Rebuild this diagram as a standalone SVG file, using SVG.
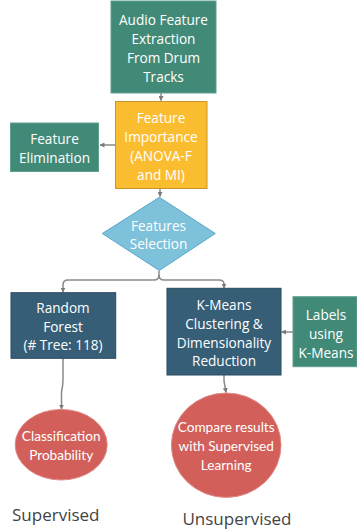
<svg xmlns="http://www.w3.org/2000/svg" width="357" height="531" viewBox="0 0 357 531">
<style>
.t{font-family:"Open Sans","DejaVu Sans",sans-serif;font-size:13.6px;fill:#ffffff;text-anchor:middle;dominant-baseline:central}
.c{font-family:Lato,"Open Sans",sans-serif;font-size:13.6px;fill:#ffffff;text-anchor:middle;dominant-baseline:central}
.lab{font-family:"Open Sans","DejaVu Sans",sans-serif;font-size:17px;fill:#444444;text-anchor:middle;dominant-baseline:central}
.teal{fill:#428a78;stroke:#5fa08f;stroke-width:1}
.navy{fill:#365e77;stroke:#2a4a5e;stroke-width:1}
.red{fill:#d35f5a;stroke:#e08a86;stroke-width:1}
.ln{fill:none;stroke:#8a8a8a;stroke-width:1.5}
</style>
<defs>
<marker id="ah" viewBox="0 0 10 10" refX="9" refY="5" markerWidth="5" markerHeight="5" orient="auto" markerUnits="userSpaceOnUse">
<path d="M0 0 L10 5 L0 10 z" fill="#7a7a7a"/>
</marker>
</defs>
<rect width="357" height="531" fill="#ffffff"/>
<g id="connectors">
<path class="ln" d="M161 93 L161 100.5" marker-end="url(#ah)"/>
<path class="ln" d="M115 145 L100 145" marker-end="url(#ah)"/>
<path class="ln" d="M160 188 L160 196.5" marker-end="url(#ah)"/>
<path class="ln" d="M159 271 L159 275 Q159 280 154 280 L68 280 Q63 280 63 285 L63 292" marker-end="url(#ah)"/>
<path class="ln" d="M159 275 Q159 280 164 280 L219 280 Q224 280 224 284 L224 288" marker-end="url(#ah)"/>
<path class="ln" d="M293 332 L281.5 332" marker-end="url(#ah)"/>
<path class="ln" d="M63 358 L63 380 Q63 385 61.5 392 L61.5 409" marker-end="url(#ah)"/>
<path class="ln" d="M224 375 L224 381 L226 392.5" marker-end="url(#ah)"/>
</g>
<g id="audio">
<rect class="teal" x="111" y="1" width="105" height="92"/>
<text class="t" x="163.5" y="19.3">Audio Feature</text>
<text class="t" x="163.5" y="38.7">Extraction</text>
<text class="t" x="163.5" y="57.7">From Drum</text>
<text class="t" x="163.5" y="76.7">Tracks</text>
</g>
<g id="importance">
<rect x="115.5" y="101.5" width="91.5" height="87" fill="#fbbd30" stroke="#c8962a" stroke-width="1"/>
<text class="t" x="161" y="117.3">Feature</text>
<text class="t" x="161" y="136.3">Importance</text>
<text class="t" x="161" y="155.7">(ANOVA-F</text>
<text class="t" x="161" y="174">and MI)</text>
</g>
<g id="elimination">
<rect class="teal" x="10.5" y="123" width="88" height="48.5"/>
<text class="t" x="54.5" y="138.3">Feature</text>
<text class="t" x="54.5" y="157">Elimination</text>
</g>
<g id="selection">
<polygon points="159.3,197.3 215.3,233.5 159.3,270.5 102.3,233.5" fill="#7ec1db" stroke="#5aa9c8" stroke-width="1"/>
<text class="t" x="158.5" y="225.7">Features</text>
<text class="t" x="158.5" y="243.3">Selection</text>
</g>
<g id="forest">
<rect class="navy" x="11" y="292.7" width="104.7" height="65.6"/>
<text class="t" x="63" y="307.3">Random</text>
<text class="t" x="63" y="326">Forest</text>
<text class="t" x="63" y="344.3">(# Tree: 118)</text>
</g>
<g id="kmeans">
<rect class="navy" x="167" y="288.3" width="114" height="86.7"/>
<text class="t" x="224" y="304.3">K-Means</text>
<text class="t" x="224" y="323.3">Clustering &amp;</text>
<text class="t" x="224" y="342.3">Dimensionality</text>
<text class="t" x="224" y="360.7">Reduction</text>
</g>
<g id="labels">
<rect class="teal" x="293" y="296.7" width="64" height="70"/>
<text class="t" x="326" y="314">Labels</text>
<text class="t" x="326" y="333.3">using</text>
<text class="t" x="326" y="352">K-Means</text>
</g>
<g id="classification">
<ellipse class="red" cx="61.2" cy="444.7" rx="46" ry="35.3"/>
<text class="c" x="61.2" y="436">Classification</text>
<text class="c" x="61.2" y="455.3">Probability</text>
</g>
<g id="compare">
<ellipse class="red" cx="226.2" cy="445.2" rx="54.8" ry="52.2"/>
<text class="c" x="226.2" y="426.7">Compare results</text>
<text class="c" x="226.2" y="446">with Supervised</text>
<text class="c" x="226.2" y="465">Learning</text>
</g>
<g id="captions">
<text class="lab" x="55.8" y="514">Supervised</text>
<text class="lab" x="237" y="518.3">Unsupervised</text>
</g>
</svg>
